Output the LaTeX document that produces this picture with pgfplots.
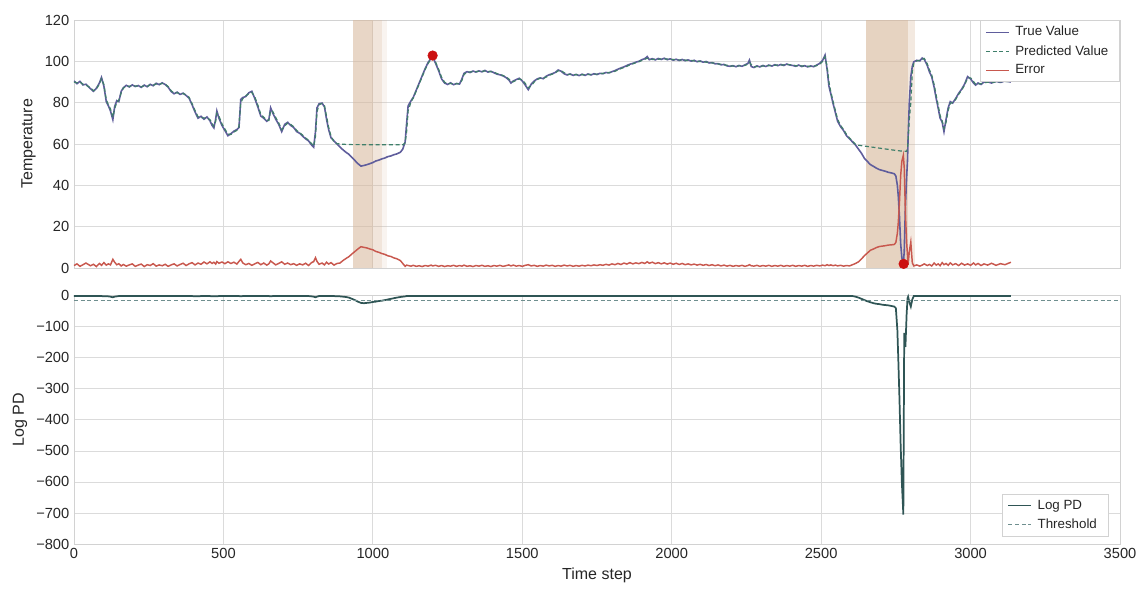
\documentclass[border=0pt]{standalone}
\usepackage{pgfplots}
\usepackage{pgfplotstable}
\pgfplotsset{compat=1.18}
\usepackage{fontspec}
\setmainfont{Liberation Sans}
\definecolor{trueC}{HTML}{5F5D9C}
\definecolor{predC}{HTML}{3F7F6A}
\definecolor{errC}{HTML}{C8584E}
\definecolor{logC}{HTML}{2F5555}
\definecolor{thrC}{HTML}{6F8F8F}
\definecolor{dotC}{HTML}{CC1111}
\definecolor{bandC}{HTML}{D6B598}

\pgfplotstableread{
x t p e l
0 90.5 90.0 1.2 -1
10 89.2 89.6 2.0 -1
20 90.3 90.0 0.8 -1
30 88.6 88.9 1.6 -1
40 88.9 88.5 2.4 -1
55 86.8 87.2 1.1 -1
65 85.5 85.8 1.8 -1
75 87.0 86.6 0.7 -1
85 89.5 89.0 2.2 -1
92 92.2 91.5 1.3 -1
100 88.0 88.8 2.6 -2
108 80.5 81.5 1.4 -2
115 78.5 79.0 2.0 -2
122 76.0 77.0 1.5 -3
130 71.8 73.0 4.2 -5
136 78.0 77.0 2.8 -3
143 81.0 80.0 1.6 -2
150 80.5 81.2 2.1 -1
158 85.5 84.8 1.0 -1
165 87.2 87.0 1.7 -1
175 88.4 88.1 0.9 -1
185 87.6 87.9 1.5 -1
195 88.6 88.3 2.0 -1
205 87.8 88.0 0.8 -1
215 88.3 88.1 1.4 -1
225 87.4 87.7 1.9 -1
235 88.5 88.2 0.7 -1
245 87.7 87.9 1.6 -1
255 88.9 88.6 1.2 -1
265 88.2 88.4 2.1 -1
275 89.4 89.1 0.9 -1
285 88.7 88.9 1.5 -1
295 89.6 89.3 1.1 -1
305 88.8 89.0 1.8 -1
315 87.5 87.8 0.8 -1
325 85.4 85.8 1.5 -1
335 84.3 84.6 2.0 -1
345 85.1 84.8 1.0 -1
355 84.0 84.3 1.7 -1
365 84.6 84.4 2.3 -1
375 83.5 83.8 1.2 -1
385 82.2 82.6 2.0 -1
395 79.0 79.6 2.6 -1
405 75.5 76.2 1.5 -2
415 72.5 73.2 2.4 -2
425 73.4 72.8 1.8 -1
435 72.0 72.6 2.9 -1
445 73.1 72.5 2.0 -1
455 71.2 71.8 3.0 -1
462 69.0 70.0 2.2 -2
468 67.8 68.6 2.8 -2
474 72.0 71.0 1.9 -2
478 76.0 74.8 3.1 -2
485 72.5 73.5 2.3 -1
495 69.0 69.8 2.9 -1
505 66.5 67.2 2.1 -1
515 64.0 64.8 3.0 -1
525 65.0 64.6 2.2 -1
535 66.2 65.8 2.8 -1
545 67.0 66.6 1.9 -1
552 68.0 68.5 3.2 -1
558 81.5 80.0 4.2 -2
565 82.5 82.0 2.4 -1
575 83.0 83.3 1.6 -1
585 84.8 84.4 2.2 -1
595 85.5 85.0 1.3 -1
605 82.0 82.8 2.0 -1
615 78.0 78.9 2.7 -1
625 73.5 74.4 1.6 -1
635 72.5 72.9 2.4 -1
645 71.0 71.5 1.4 -1
652 71.8 71.4 2.0 -1
658 77.5 76.2 3.4 -2
665 75.0 75.8 2.6 -1
675 72.0 72.8 1.5 -1
685 69.5 70.2 2.2 -1
695 66.0 66.9 3.0 -1
705 69.5 68.8 1.8 -1
715 70.5 70.1 2.4 -1
725 69.0 69.5 1.6 -1
735 68.0 68.4 2.1 -1
745 66.0 66.6 1.3 -1
755 65.2 65.5 2.0 -1
765 63.8 64.3 1.5 -1
775 62.5 62.9 2.3 -1
785 61.5 61.8 1.2 -1
795 59.5 60.2 2.6 -2
802 58.5 59.0 3.1 -3
808 66.0 63.5 5.0 -5
813 77.5 75.5 3.2 -3
820 79.5 79.0 1.8 -1
830 79.8 79.6 2.4 -1
838 78.0 78.5 1.5 -1
845 72.0 73.5 2.8 -1
852 67.0 68.2 1.9 -1
860 63.0 63.8 2.6 -1
870 61.5 61.0 1.4 -1
880 60.0 60.2 2.2 -2
890 58.5 60.0 2.4 -2
900 57.2 59.9 3.6 -3
910 56.0 59.8 4.6 -4
920 55.0 59.8 5.5 -6
930 53.5 59.7 6.8 -10
940 52.0 59.7 8.0 -14
950 50.5 59.7 9.2 -19
960 49.3 59.7 10.3 -23
970 49.6 59.6 10.0 -24
980 50.0 59.6 9.7 -23
990 50.5 59.6 9.2 -22
1000 51.0 59.6 8.8 -20
1010 51.8 59.6 8.0 -19
1020 52.2 59.6 7.6 -17
1030 52.8 59.6 7.0 -16
1040 53.2 59.6 6.6 -14
1050 53.9 59.6 5.9 -12
1060 54.2 59.6 5.6 -10
1070 54.8 59.6 4.9 -8
1080 55.2 59.6 4.5 -6
1092 56.0 59.6 3.6 -4
1100 57.5 59.6 2.2 -3
1108 61.0 60.5 0.8 -2
1113 70.0 66.0 1.4 -1
1118 78.5 76.0 1.2 -1
1128 81.0 80.5 0.9 -1
1135 82.5 82.2 1.3 -1
1145 86.0 85.6 0.8 -1
1155 89.5 89.0 1.1 -1
1165 93.0 92.6 0.7 -1
1175 96.5 96.0 1.2 -1
1185 99.5 99.0 0.9 -1
1195 101.5 101.2 1.4 -1
1200 102.3 101.8 1.0 -1
1210 99.0 99.6 1.3 -1
1220 95.5 96.2 0.8 -1
1230 91.5 92.3 1.2 -1
1240 89.5 89.9 0.7 -1
1250 88.8 89.1 1.1 -1
1260 89.6 89.3 0.9 -1
1270 88.7 89.0 1.3 -1
1280 89.3 89.1 0.8 -1
1290 89.0 89.2 1.2 -1
1298 91.5 90.8 0.9 -1
1305 94.2 93.6 1.4 -1
1315 95.0 94.8 0.8 -1
1325 94.6 94.8 1.1 -1
1335 95.3 95.1 0.7 -1
1345 94.8 95.0 1.2 -1
1355 95.4 95.2 0.9 -1
1365 94.9 95.1 1.3 -1
1375 95.6 95.4 0.8 -1
1385 94.8 95.1 1.1 -1
1395 95.2 95.0 0.7 -1
1405 94.5 94.8 1.2 -1
1415 93.8 94.1 0.9 -1
1425 93.5 93.6 1.3 -1
1435 93.0 93.2 0.8 -1
1445 92.2 92.5 1.1 -1
1455 91.0 91.5 1.5 -1
1462 89.5 90.2 1.0 -1
1470 90.5 90.1 1.4 -1
1480 91.2 90.9 0.9 -1
1490 91.8 91.5 1.2 -1
1500 90.5 91.0 0.8 -1
1510 88.5 89.3 1.3 -1
1520 86.3 87.2 1.6 -1
1530 89.0 88.2 1.0 -1
1540 90.5 90.0 1.3 -1
1550 91.5 91.2 0.8 -1
1560 92.0 91.8 1.2 -1
1570 91.6 91.8 0.9 -1
1580 92.8 92.4 1.4 -1
1590 93.5 93.2 1.0 -1
1600 94.0 93.8 1.3 -1
1610 94.6 94.4 0.8 -1
1620 95.8 95.4 1.2 -1
1630 95.2 95.5 0.9 -1
1640 94.0 94.5 1.4 -1
1650 93.4 93.7 1.0 -1
1660 93.9 93.7 1.3 -1
1670 93.2 93.5 0.8 -1
1680 93.7 93.5 1.2 -1
1690 93.1 93.4 0.9 -1
1700 93.8 93.5 1.3 -1
1710 93.2 93.5 1.0 -1
1720 93.9 93.6 1.4 -1
1730 93.4 93.7 1.1 -1
1740 94.0 93.8 1.5 -1
1750 93.6 93.8 1.2 -1
1760 94.2 94.0 1.6 -1
1770 94.0 94.2 1.3 -1
1780 94.6 94.3 1.8 -1
1790 94.4 94.6 1.4 -1
1800 95.0 94.7 2.0 -1
1810 95.5 95.2 1.6 -1
1820 96.2 95.8 2.2 -1
1830 96.8 96.5 1.7 -1
1840 97.3 97.0 2.4 -1
1850 98.0 97.6 1.9 -1
1860 98.6 98.3 2.6 -1
1870 99.0 98.8 2.0 -1
1880 99.6 99.3 2.5 -1
1890 100.0 99.8 2.1 -1
1900 100.8 100.4 2.7 -1
1910 101.3 101.0 2.2 -1
1918 102.3 101.5 3.0 -1
1925 100.8 101.2 2.3 -1
1935 101.3 100.9 2.8 -1
1945 100.7 101.0 2.1 -1
1955 101.4 101.0 2.6 -1
1965 100.9 101.2 2.0 -1
1975 101.5 101.1 2.5 -1
1985 100.8 101.1 1.9 -1
1995 101.2 100.9 2.4 -1
2005 100.6 100.9 1.8 -1
2015 101.0 100.7 2.3 -1
2025 100.4 100.7 1.7 -1
2035 100.9 100.6 2.2 -1
2045 100.3 100.6 1.6 -1
2055 100.7 100.4 2.0 -1
2065 100.1 100.4 1.5 -1
2075 100.5 100.2 1.9 -1
2085 99.8 100.1 1.4 -1
2095 100.2 99.9 1.8 -1
2105 99.6 99.9 1.3 -1
2115 99.9 99.6 1.7 -1
2125 99.2 99.5 1.2 -1
2135 99.4 99.2 1.6 -1
2145 98.8 99.1 1.1 -1
2155 98.9 98.7 1.5 -1
2165 98.3 98.6 1.0 -1
2175 98.5 98.3 1.4 -1
2185 97.8 98.1 0.9 -1
2195 97.6 97.8 1.3 -1
2205 97.9 97.7 0.8 -1
2215 97.4 97.6 1.2 -1
2225 98.0 97.8 0.9 -1
2235 97.6 97.8 1.3 -1
2245 98.3 98.0 0.8 -1
2255 99.0 98.7 1.2 -1
2260 100.6 99.5 1.6 -1
2266 97.5 98.4 1.1 -1
2275 97.0 97.3 0.9 -1
2285 97.8 97.5 1.3 -1
2295 97.3 97.6 0.8 -1
2305 98.0 97.7 1.2 -1
2315 97.5 97.8 0.9 -1
2325 98.2 97.9 1.3 -1
2335 97.7 98.0 0.8 -1
2345 98.4 98.1 1.2 -1
2355 97.9 98.2 0.9 -1
2365 98.5 98.2 1.3 -1
2375 98.0 98.3 0.8 -1
2385 98.7 98.4 1.2 -1
2395 98.2 98.4 0.9 -1
2405 98.0 98.2 1.3 -1
2415 97.6 97.9 0.8 -1
2425 98.2 97.9 1.2 -1
2435 97.5 97.8 0.9 -1
2445 97.9 97.7 1.3 -1
2455 97.3 97.6 0.8 -1
2465 97.8 97.5 1.2 -1
2475 97.4 97.7 0.9 -1
2485 98.2 97.9 1.3 -1
2495 99.0 98.6 1.0 -1
2505 100.5 100.0 1.4 -1
2513 103.0 102.2 1.1 -1
2520 96.0 97.5 1.6 -1
2526 88.0 90.0 1.2 -1
2532 84.5 85.5 1.5 -1
2540 79.5 80.5 1.1 -1
2548 75.0 76.0 1.4 -1
2555 71.0 72.0 1.0 -1
2565 68.4 69.0 1.3 -1
2575 66.5 67.0 0.9 -1
2585 64.0 64.6 1.2 -1
2595 62.5 62.9 1.0 -1
2605 61.0 61.4 1.6 -1
2615 59.5 59.8 2.2 -3
2625 57.5 59.4 3.0 -6
2635 55.5 59.2 4.4 -10
2645 53.0 59.0 6.0 -14
2655 51.5 58.8 7.3 -18
2665 50.0 58.6 8.6 -21
2675 49.2 58.4 9.2 -24
2685 48.3 58.2 9.9 -26
2695 47.6 58.0 10.4 -27
2705 47.2 57.8 10.6 -29
2715 46.8 57.6 10.8 -30
2725 46.3 57.4 11.1 -31
2735 46.0 57.2 11.2 -33
2745 45.6 57.0 11.4 -35
2750 44.5 56.9 12.4 -40
2755 40.0 56.8 16.8 -110
2758 35.0 56.8 21.8 -200
2762 25.0 56.7 31.7 -330
2766 12.0 56.6 44.6 -480
2770 5.0 56.6 51.6 -600
2775 2.0 56.5 54.5 -705
2778 8.0 56.5 48.5 -120
2782 30.0 56.5 26.5 -165
2786 44.0 56.5 12.5 -60
2789 52.0 58.0 6.0 -8
2791 63.5 62.0 1.5 -3
2795 80.0 72.0 8.0 -20
2800 92.6 80.0 12.6 -35
2805 97.5 95.0 2.5 -12
2810 99.8 99.0 1.0 -1
2820 100.5 100.2 1.5 -1
2830 100.2 100.5 0.9 -1
2838 101.6 101.0 1.4 -1
2845 101.0 101.4 2.0 -1
2855 98.0 98.8 1.2 -1
2862 95.0 96.0 1.7 -1
2870 92.5 93.4 1.0 -1
2878 87.5 88.8 2.4 -1
2885 82.0 83.5 1.4 -1
2892 77.0 78.4 2.0 -1
2898 72.5 73.8 1.1 -1
2905 70.5 71.2 2.6 -1
2911 66.0 67.5 1.6 -1
2918 72.0 70.5 2.2 -1
2925 77.5 76.2 1.3 -1
2932 80.5 79.6 2.5 -1
2940 79.8 80.2 1.5 -1
2950 82.0 81.5 2.1 -1
2960 84.5 84.0 1.2 -1
2970 86.5 86.0 2.3 -1
2980 89.0 88.5 1.4 -1
2990 92.6 92.0 2.0 -1
3000 91.5 92.0 1.3 -1
3010 89.5 90.2 2.4 -1
3017 88.5 88.9 1.5 -1
3025 89.5 89.1 2.2 -1
3035 88.8 89.2 1.2 -1
3045 90.0 89.6 2.0 -1
3057 90.1 89.9 1.4 -1
3070 89.5 89.8 2.3 -1
3085 90.3 90.0 1.3 -1
3100 89.8 90.1 2.1 -1
3115 90.5 90.2 1.6 -1
3135 90.0 90.3 2.8 -1
}\data

\pgfplotsset{
  base/.style={
    scale only axis, width=784.5pt,
    xmin=0, xmax=3500, xtick={0,500,...,3500},
    grid=major, major grid style={gray!28, line width=0.6pt},
    axis line style={gray!35, line width=0.6pt},
    major tick length=0pt,
    /pgf/number format/assume math mode=true,
    /pgf/number format/set thousands separator={},
    tick label style={font=\fontsize{11}{13}\selectfont, text=black!85},
    label style={font=\fontsize{12}{14}\selectfont, text=black!85},
    legend style={font=\fontsize{10}{12}\selectfont, draw=gray!35, text=black!85,
      inner xsep=4pt, inner ysep=2.5pt, row sep=1.6pt,
      nodes={inner xsep=4.5pt}},
    legend cell align=left,
    legend image post style={line width=0.6pt},
  }
}

\begin{document}
\begin{tikzpicture}
\begin{axis}[base, name=top, at={(0,207pt)}, height=186pt,
  ymin=0, ymax=120, ytick={0,20,...,120}, xticklabels={},
  ylabel={Temperature},
  legend style={at={(1,1)}, anchor=north east}]
\fill[bandC, fill opacity=0.55] (axis cs:935,0) rectangle (axis cs:1000,120);
\fill[bandC, fill opacity=0.35] (axis cs:1000,0) rectangle (axis cs:1030,120);
\fill[bandC, fill opacity=0.15] (axis cs:1030,0) rectangle (axis cs:1048,120);
\fill[bandC, fill opacity=0.6] (axis cs:2649,0) rectangle (axis cs:2789,120);
\fill[bandC, fill opacity=0.3] (axis cs:2789,0) rectangle (axis cs:2814,120);
\addplot[trueC, line width=1.2pt] table[x=x, y=t]{\data};
\addlegendentry{True Value}
\addplot[predC, line width=0.9pt, dash pattern=on 3pt off 2pt] table[x=x, y=p]{\data};
\addlegendentry{Predicted Value}
\addplot[errC, line width=1.1pt] table[x=x, y=e]{\data};
\addlegendentry{Error}
\addplot[only marks, mark=*, mark size=3.6pt, draw=dotC, fill=dotC, forget plot]
  coordinates {(1200,102.8) (2776,2)};
\end{axis}

\begin{axis}[base, name=bot, at={(0,0)}, height=186.2pt, clip=false,
  ymin=-800, ymax=0, ytick={-800,-700,...,0},
  yticklabels={−800,−700,−600,−500,−400,−300,−200,−100,0},
  xlabel={Time step}, ylabel={Log PD},
  legend style={at={(0.989,0.03)}, anchor=south east}]
\addplot[logC, line width=1.3pt] table[x=x, y=l]{\data};
\addlegendentry{Log PD}
\addplot[thrC, line width=0.8pt, dash pattern=on 3pt off 2pt] coordinates {(0,-14) (3500,-14)};
\addlegendentry{Threshold}
\end{axis}
\path ([shift={(-55.5pt,-34.5pt)}]bot.south west) rectangle ([shift={(802.5pt,408pt)}]bot.south west);
\end{tikzpicture}
\end{document}
